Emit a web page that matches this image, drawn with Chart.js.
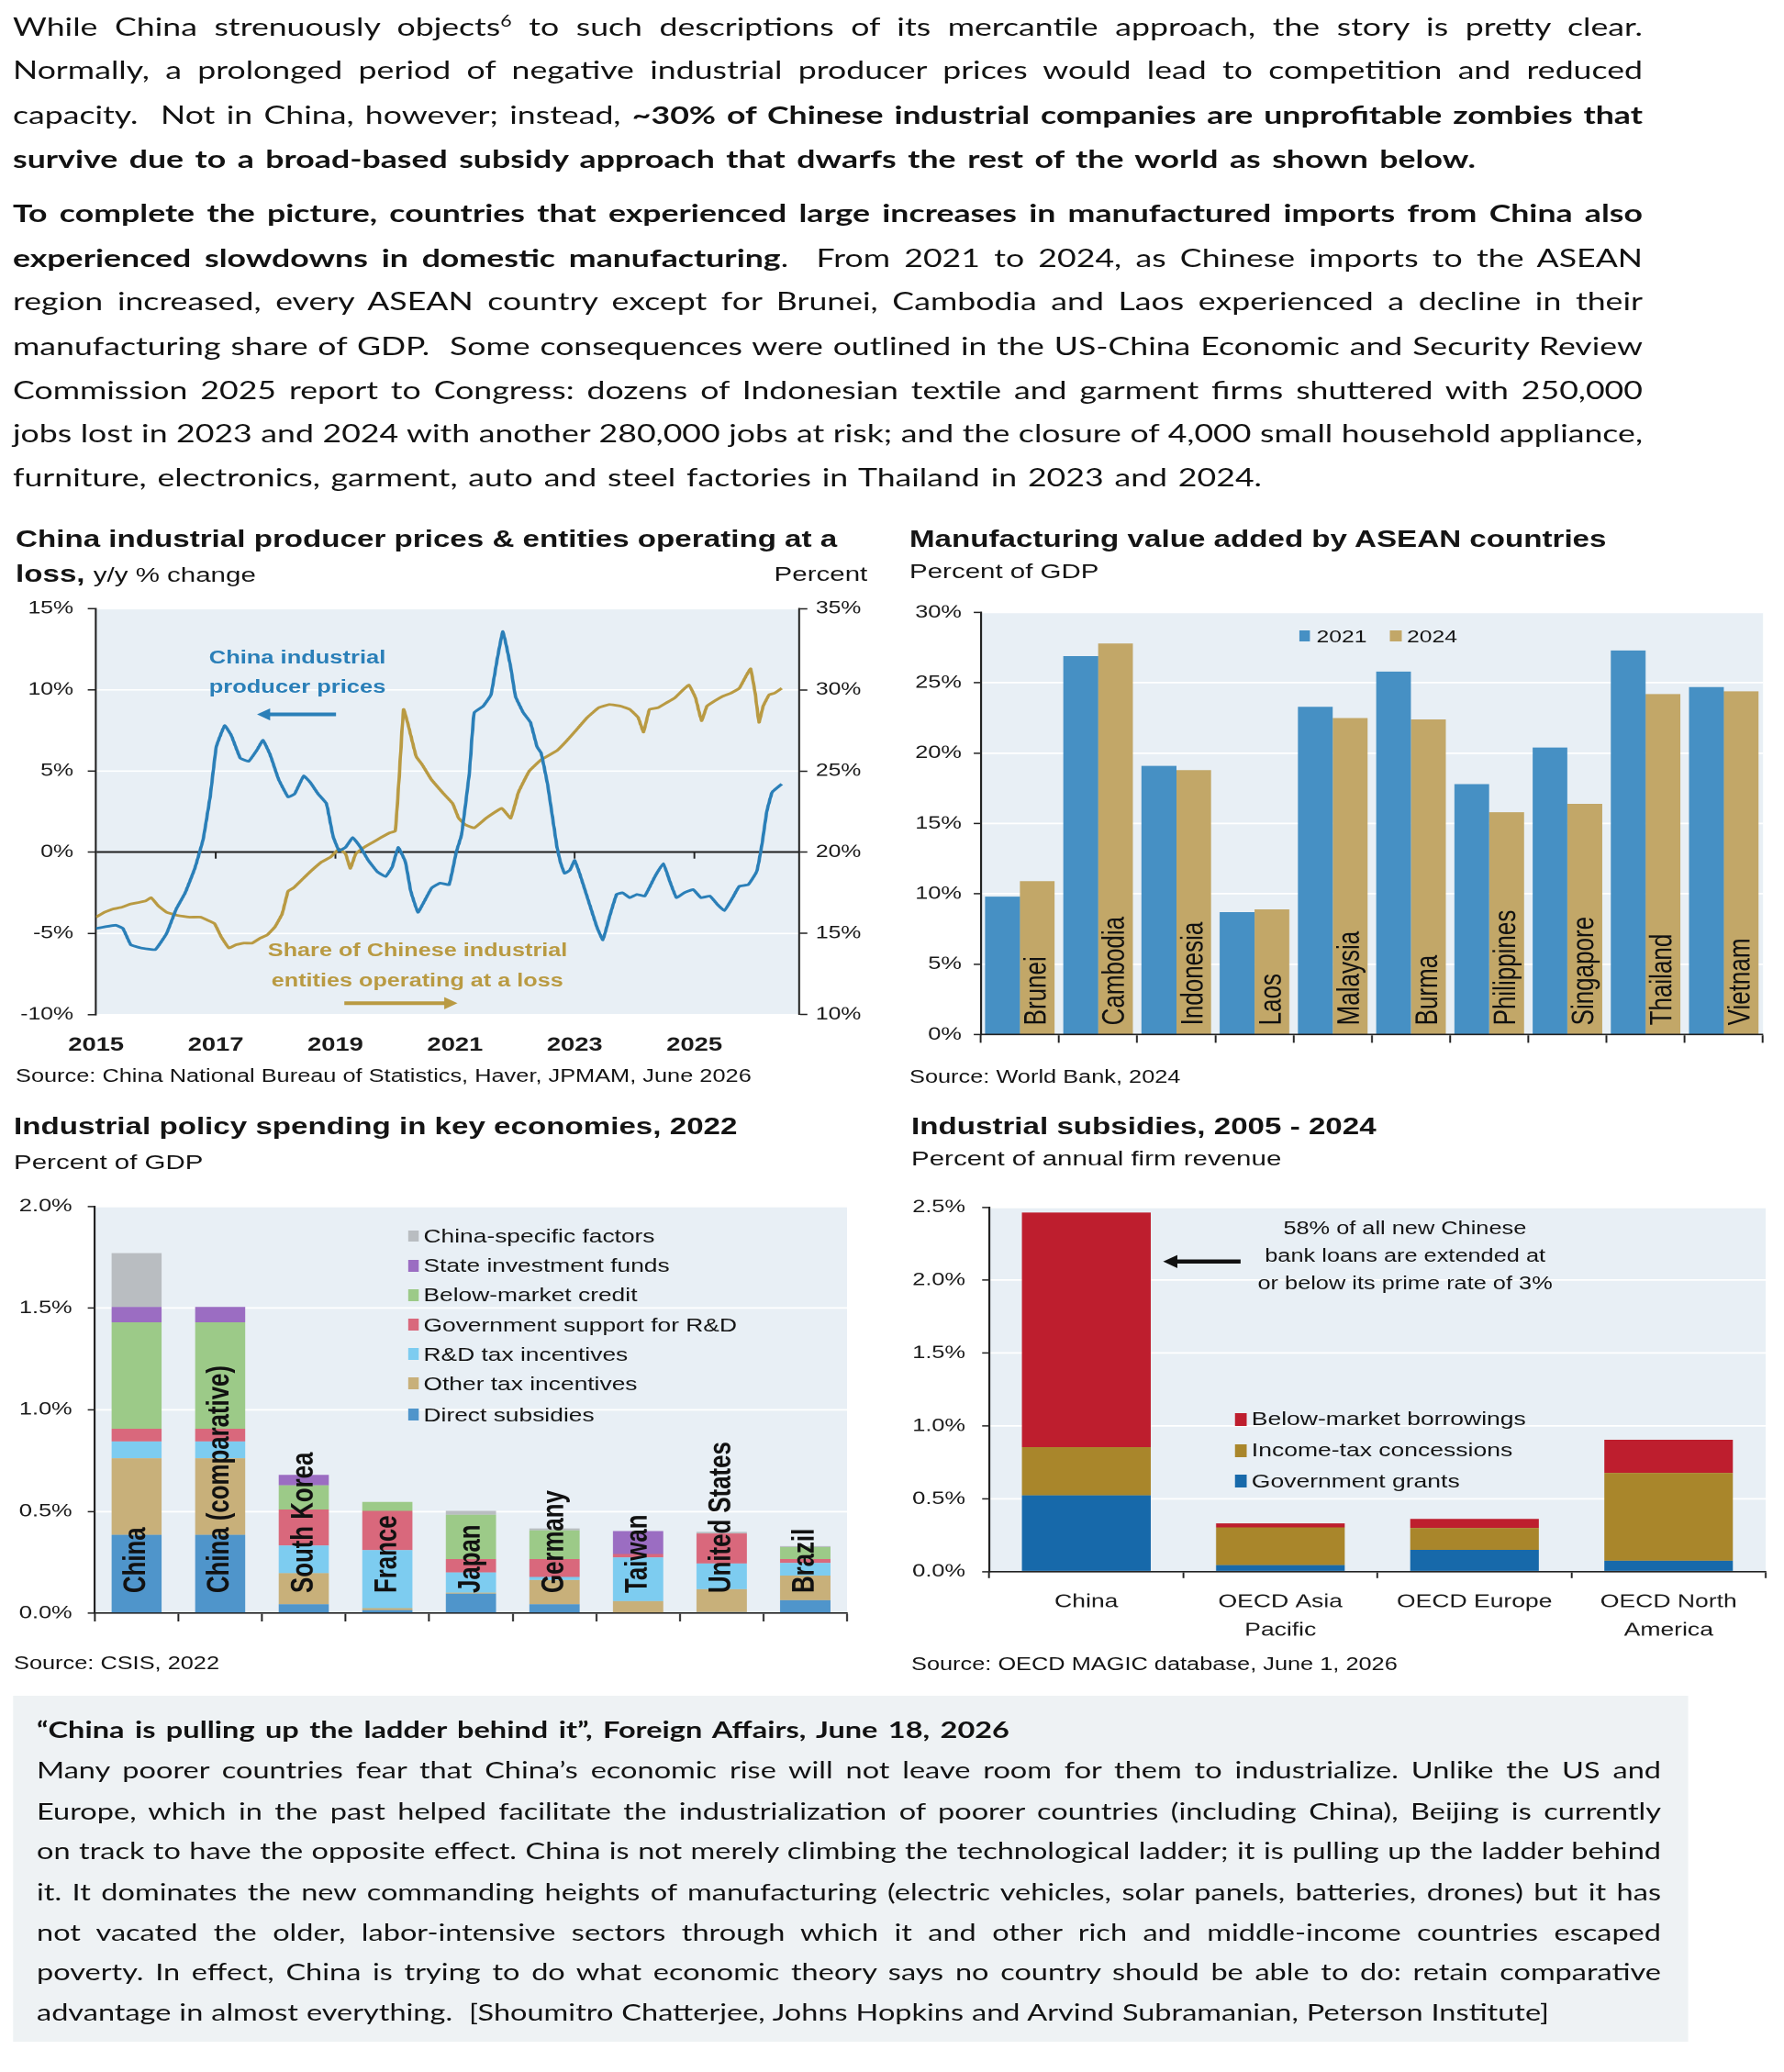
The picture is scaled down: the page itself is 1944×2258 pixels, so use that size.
<!DOCTYPE html>
<html><head><meta charset="utf-8">
<script src="https://cdn.jsdelivr.net/npm/chart.js@4.4.1/dist/chart.umd.min.js"></script>
<style>
html,body{margin:0;padding:0;background:#fff;}
body{width:1944px;height:2258px;overflow:hidden;position:relative;}
#page{position:absolute;left:0;top:0;width:1496px;height:2258px;transform:scaleX(1.3);transform-origin:0 0;}
.t{position:absolute;white-space:nowrap;color:#141414;}
.jl{position:absolute;text-align:justify;text-align-last:justify;font-family:Lato,"Open Sans",sans-serif;color:#121212;overflow:visible;}
.jl sup{font-size:0.6em;line-height:0;}
.box{position:absolute;background:#eef2f4;}
.sq{position:absolute;}
canvas{position:absolute;}
</style></head>
<body><div id="page"></div>
<script>
// ---------------- DATA ----------------
const yearTicks=[2015,2017,2019,2021,2023,2025];
const ppiTicks=[-10,-5,0,5,10,15];
const lossTicks=[10,15,20,25,30,35];
const ppiYears=[2015.00,2015.14,2015.33,2015.45,2015.58,2015.75,2015.99,2016.18,2016.34,2016.49,2016.65,2016.79,2016.91,2017.01,2017.15,2017.26,2017.41,2017.55,2017.69,2017.79,2017.91,2018.05,2018.21,2018.32,2018.47,2018.58,2018.71,2018.85,2018.96,2019.06,2019.17,2019.29,2019.42,2019.55,2019.70,2019.84,2019.95,2020.05,2020.17,2020.26,2020.38,2020.49,2020.61,2020.75,2020.90,2021.02,2021.11,2021.24,2021.32,2021.47,2021.60,2021.70,2021.80,2021.93,2022.01,2022.14,2022.26,2022.37,2022.44,2022.55,2022.70,2022.76,2022.83,2022.92,2023.00,2023.09,2023.23,2023.37,2023.47,2023.58,2023.70,2023.80,2023.92,2024.04,2024.17,2024.34,2024.48,2024.59,2024.70,2024.83,2024.98,2025.11,2025.26,2025.38,2025.50,2025.64,2025.75,2025.90,2026.04,2026.13,2026.21,2026.30,2026.46];
const ppiValues=[-4.7,-4.6,-4.5,-4.7,-5.7,-5.9,-6.0,-5.0,-3.5,-2.5,-1.0,0.8,3.5,6.5,7.8,7.2,5.8,5.6,6.3,6.9,6.0,4.5,3.4,3.6,4.7,4.3,3.6,3.0,1.0,0.1,0.3,0.9,0.3,-0.5,-1.2,-1.5,-0.9,0.3,-0.6,-2.4,-3.7,-3.0,-2.2,-1.9,-2.0,0.0,1.1,4.9,8.6,9.0,9.7,11.8,13.6,11.4,9.6,8.6,8.0,6.5,6.1,4.1,0.4,-0.6,-1.3,-1.1,-0.5,-1.4,-3.0,-4.6,-5.4,-4.0,-2.6,-2.5,-2.8,-2.6,-2.7,-1.5,-0.7,-1.8,-2.8,-2.5,-2.3,-2.8,-2.7,-3.2,-3.6,-2.8,-2.1,-2.0,-1.2,0.5,2.5,3.7,4.2];
const lossYears=[2015.00,2015.14,2015.28,2015.42,2015.57,2015.71,2015.83,2015.92,2016.04,2016.18,2016.37,2016.56,2016.75,2016.87,2016.98,2017.09,2017.22,2017.34,2017.47,2017.61,2017.74,2017.86,2017.99,2018.11,2018.21,2018.30,2018.44,2018.58,2018.77,2018.92,2019.06,2019.17,2019.25,2019.34,2019.48,2019.62,2019.76,2019.91,2020.00,2020.07,2020.14,2020.22,2020.35,2020.45,2020.60,2020.81,2020.96,2021.06,2021.17,2021.32,2021.52,2021.78,2021.93,2022.06,2022.24,2022.44,2022.70,2022.85,2023.01,2023.21,2023.40,2023.58,2023.77,2023.92,2024.06,2024.15,2024.25,2024.39,2024.53,2024.67,2024.81,2024.91,2025.02,2025.12,2025.21,2025.33,2025.47,2025.61,2025.75,2025.87,2025.94,2026.02,2026.08,2026.15,2026.25,2026.34,2026.46];
const lossValues=[16.0,16.3,16.5,16.6,16.8,16.9,17.0,17.2,16.7,16.3,16.1,16.0,16.0,15.8,15.6,14.8,14.1,14.3,14.4,14.4,14.7,14.9,15.4,16.2,17.6,17.8,18.3,18.8,19.4,19.7,20.2,19.9,19.0,19.9,20.3,20.6,20.9,21.2,21.3,24.85,28.8,27.8,25.9,25.4,24.5,23.6,23.0,22.1,21.7,21.5,22.1,22.7,22.1,23.7,25.0,25.7,26.25,26.8,27.46,28.3,28.9,29.1,29.0,28.8,28.3,27.4,28.8,28.9,29.2,29.5,30.0,30.3,29.5,28.1,29.0,29.3,29.6,29.8,30.1,30.9,31.3,29.7,28.0,29.0,29.7,29.8,30.1];

const aseanCountries=['Brunei','Cambodia','Indonesia','Laos','Malaysia','Burma','Philippines','Singapore','Thailand','Vietnam'];
const mvaSeries=['2021','2024'];
const mva2021=[9.8,26.9,19.1,8.7,23.3,25.8,17.8,20.4,27.3,24.7];
const mva2024=[10.9,27.8,18.8,8.9,22.5,22.4,15.8,16.4,24.2,24.4];
const mvaTicks=[0,5,10,15,20,25,30];

const policyCountries=['China','China (comparative)','South Korea','France','Japan','Germany','Taiwan','United States','Brazil'];
const policyComponents=['Direct subsidies','Other tax incentives','R&D tax incentives','Government support for R&D','Below-market credit','State investment funds','China-specific factors'];
const directSubsidies=[0.385,0.385,0.044,0.015,0.096,0.044,0.000,0.005,0.064];
const otherTaxIncentives=[0.377,0.377,0.153,0.010,0.005,0.119,0.059,0.113,0.121];
const rdTaxIncentives=[0.082,0.082,0.136,0.285,0.099,0.015,0.215,0.126,0.062];
const govSupportRD=[0.063,0.063,0.177,0.193,0.066,0.088,0.017,0.148,0.019];
const belowMarketCredit=[0.523,0.523,0.119,0.044,0.218,0.141,0.000,0.000,0.059];
const stateInvestmentFunds=[0.076,0.076,0.051,0,0,0,0.113,0,0];
const chinaSpecificFactors=[0.264,0,0,0,0.019,0.010,0,0.008,0.005];
const policyTicks=[0,0.5,1,1.5,2];

const subsidyRegions=['China',['OECD Asia','Pacific'],'OECD Europe',['OECD North','America']];
const subsidyComponents=['Government grants','Income-tax concessions','Below-market borrowings'];
const govGrants=[0.524,0.045,0.150,0.075];
const incomeTaxConcessions=[0.331,0.259,0.150,0.603];
const belowMarketBorrowings=[1.609,0.028,0.062,0.227];
const subsidyTicks=[0,0.5,1,1.5,2,2.5];

// ---------------- HELPERS ----------------
const K=1.3;
const page=document.getElementById('page');
const L=x=>x/K;
const CHF='"Liberation Sans", Arial, Helvetica, sans-serif';

function addText(html,xFull,yFull,o={}){
  const d=document.createElement('div');
  d.className='t';
  const size=o.size||20, lh=o.lh||Math.round(size*1.3);
  d.style.fontFamily=o.family||CHF;
  d.style.fontSize=size+'px';
  d.style.lineHeight=lh+'px';
  d.style.fontWeight=o.bold?'700':'400';
  if(o.color) d.style.color=o.color;
  d.style.top=(yFull-lh/2)+'px';
  d.innerHTML=html;
  page.appendChild(d);
  const w=d.offsetWidth;
  let left=L(xFull);
  if(o.align==='right') left-=w; else if(o.align==='center') left-=w/2;
  d.style.left=left+'px';
  return d;
}
function addBox(x1,y1,x2,y2,color,cls){
  const d=document.createElement('div');
  d.className=cls||'box';
  d.style.left=L(x1)+'px'; d.style.top=y1+'px';
  d.style.width=L(x2-x1)+'px'; d.style.height=(y2-y1)+'px';
  if(color) d.style.background=color;
  page.appendChild(d); return d;
}
function justifyLines(lines,o){
  const els=lines.map(l=>{
    const d=document.createElement('div');
    d.className='jl';
    d.style.fontSize=o.size+'px'; d.style.lineHeight=o.lh+'px';
    d.style.left=L(o.left)+'px'; d.style.top=(l.y-o.lh/2)+'px';
    const w=L((l.right||o.right)-o.left);
    d.style.width=w+'px'; d.style.height=o.lh+'px';
    d.innerHTML='<span style="white-space:nowrap">'+l.html+'</span>';
    page.appendChild(d);
    return {d,w};
  });
  let f=1;
  els.forEach(({d,w})=>{const nw=d.firstChild.offsetWidth; f=Math.min(f,w/nw);});
  if(f<1) els.forEach(({d})=>{d.style.fontSize=(o.size*f*0.996)+'px';});
  els.forEach(({d})=>{d.firstChild.style.whiteSpace='normal';});
}
function legendItem(sqX1,sqX2,y,sqH,color,text,textX,size){
  addBox(sqX1,y-sqH/2,sqX2,y+sqH/2,color,'sq');
  addText(text,textX,y,{size:size});
}
function mkCanvas(leftFull,top,wFull,h){
  const c=document.createElement('canvas');
  c.width=Math.round(L(wFull)); c.height=h;
  c.style.left=L(leftFull)+'px'; c.style.top=top+'px';
  page.appendChild(c); return c;
}
function arrow(ctx,x1,y1,x2,y2,color,w,head){
  const dir=Math.sign(x2-x1);
  ctx.save(); ctx.strokeStyle=color; ctx.fillStyle=color; ctx.lineWidth=w;
  ctx.beginPath(); ctx.moveTo(x1,y1); ctx.lineTo(x2-dir*head*0.7,y2); ctx.stroke();
  ctx.beginPath(); ctx.moveTo(x2,y2); ctx.lineTo(x2-dir*head,y2-head*0.6); ctx.lineTo(x2-dir*head,y2+head*0.6); ctx.closePath(); ctx.fill();
  ctx.restore();
}
const plotBg={id:'plotBg',beforeDraw(ch){const a=ch.chartArea,x=ch.ctx;x.save();x.fillStyle='#e8eff5';x.fillRect(a.left,a.top,a.right-a.left,a.bottom-a.top);x.restore();}};
const tickSet=arr=>s=>{s.ticks=arr.map(v=>({value:v}));};

Chart.defaults.font.family=CHF;
Chart.defaults.color='#1a1a1a';
Chart.defaults.animation=false;
Chart.defaults.plugins.legend.display=false;
Chart.defaults.plugins.tooltip.enabled=false;

// ---------------- BODY TEXT ----------------
justifyLines([
 {y:29,html:'While China strenuously objects<sup>6</sup> to such descriptions of its mercantile approach, the story is pretty clear.'},
 {y:76,html:'Normally, a prolonged period of negative industrial producer prices would lead to competition and reduced'},
 {y:125,html:'capacity.&nbsp; Not in China, however; instead, <b>~30% of Chinese industrial companies are unprofitable zombies that</b>'},
 {y:173,right:1608,html:'<b>survive due to a broad-based subsidy approach that dwarfs the rest of the world as shown below.</b>'},
 {y:232,html:'<b>To complete the picture, countries that experienced large increases in manufactured imports from China also</b>'},
 {y:281,html:'<b>experienced slowdowns in domestic manufacturing</b>.&nbsp; From 2021 to 2024, as Chinese imports to the ASEAN'},
 {y:328,html:'region increased, every ASEAN country except for Brunei, Cambodia and Laos experienced a decline in their'},
 {y:377,html:'manufacturing share of GDP.&nbsp; Some consequences were outlined in the US-China Economic and Security Review'},
 {y:425,html:'Commission 2025 report to Congress: dozens of Indonesian textile and garment firms shuttered with 250,000'},
 {y:472,html:'jobs lost in 2023 and 2024 with another 280,000 jobs at risk; and the closure of 4,000 small household appliance,'},
 {y:520,right:1375,html:'furniture, electronics, garment, auto and steel factories in Thailand in 2023 and 2024.'}
],{left:14,right:1790,size:32,lh:42});

addBox(14,1848,1839,2225,'#eef2f4');
justifyLines([
 {y:1884,right:1100,html:'<b>“China is pulling up the ladder behind it”, Foreign Affairs, June 18, 2026</b>'},
 {y:1928,html:'Many poorer countries fear that China’s economic rise will not leave room for them to industrialize. Unlike the US and'},
 {y:1973,html:'Europe, which in the past helped facilitate the industrialization of poorer countries (including China), Beijing is currently'},
 {y:2016,html:'on track to have the opposite effect. China is not merely climbing the technological ladder; it is pulling up the ladder behind'},
 {y:2061,html:'it. It dominates the new commanding heights of manufacturing (electric vehicles, solar panels, batteries, drones) but it has'},
 {y:2105,html:'not vacated the older, labor-intensive sectors through which it and other rich and middle-income countries escaped'},
 {y:2148,html:'poverty. In effect, China is trying to do what economic theory says no country should be able to do: retain comparative'},
 {y:2192,right:1688,html:'advantage in almost everything.&nbsp; [Shoumitro Chatterjee, Johns Hopkins and Arvind Subramanian, Peterson Institute]'}
],{left:40,right:1810,size:30,lh:40});

// ---------------- TITLES / SOURCES ----------------
const TS=25.5, SS=22.7;
addText('China industrial producer prices &amp; entities operating at a',17,587,{size:TS,bold:true});
addText('<b>loss,</b> <span style="font-size:'+SS+'px">y/y % change</span>',17,625,{size:TS});
addText('Percent',945,625,{size:SS,align:'right'});
addText('Source: China National Bureau of Statistics, Haver, JPMAM, June 2026',17,1172,{size:19.5});

addText('Manufacturing value added by ASEAN countries',991,587,{size:TS,bold:true});
addText('Percent of GDP',991,622,{size:SS});
addText('Source: World Bank, 2024',991,1173,{size:19.5});

addText('Industrial policy spending in key economies, 2022',15,1227,{size:TS,bold:true});
addText('Percent of GDP',15,1266,{size:SS});
addText('Source: CSIS, 2022',15,1812,{size:19.5});

addText('Industrial subsidies, 2005 - 2024',993,1227,{size:TS,bold:true});
addText('Percent of annual firm revenue',993,1262,{size:SS});
addText('Source: OECD MAGIC database, June 1, 2026',993,1813,{size:19.5});

// ---------------- CHART A ----------------
const cA=mkCanvas(0,640,960,520);
const annA={id:'annA',
 beforeDatasetsDraw(ch){const x=ch.scales.x,y=ch.scales.y,ctx=ch.ctx;const y0=y.getPixelForValue(0);
   ctx.save();ctx.strokeStyle='#222';ctx.lineWidth=1.5;
   yearTicks.slice(1).forEach(v=>{const px=x.getPixelForValue(v);ctx.beginPath();ctx.moveTo(px,y0);ctx.lineTo(px,y0+7);ctx.stroke();});
   ctx.restore();},
 afterDatasetsDraw(ch){const x=ch.scales.x,y=ch.scales.y,ctx=ch.ctx;
   arrow(ctx,x.getPixelForValue(2019.01),y.getPixelForValue(8.49),x.getPixelForValue(2017.69),y.getPixelForValue(8.49),'#2a7fb8',4,11);
   arrow(ctx,x.getPixelForValue(2019.15),y.getPixelForValue(-9.3),x.getPixelForValue(2021.04),y.getPixelForValue(-9.3),'#b99a42',4,11);}
};
new Chart(cA,{type:'line',
 data:{datasets:[
  {label:'China industrial producer prices',data:ppiYears.map((x,i)=>({x,y:ppiValues[i]})),borderColor:'#2a7fb8',borderWidth:2.8,pointRadius:0,yAxisID:'y',tension:0.1,order:1},
  {label:'Share of Chinese industrial entities operating at a loss',data:lossYears.map((x,i)=>({x,y:lossValues[i]})),borderColor:'#b99a42',borderWidth:2.8,pointRadius:0,yAxisID:'y2',tension:0.1,order:2}
 ]},
 options:{responsive:false,devicePixelRatio:2,layout:{padding:{top:18.5,left:0,right:0,bottom:0}},
  scales:{
   x:{type:'linear',min:2015,max:2026.75,afterBuildTicks:tickSet(yearTicks),
      ticks:{font:{size:21,weight:'bold'},padding:21,maxRotation:0,autoSkip:false,callback:v=>String(v)},
      grid:{display:false,drawTicks:false},border:{display:false},afterFit:s=>{s.height=54.4;}},
   y:{position:'left',min:-10,max:15,afterBuildTicks:tickSet(ppiTicks),
      ticks:{font:{size:19},padding:12,callback:v=>v+'%'},
      grid:{color:c=>(c.tick&&c.tick.value===0)?'#1e1e1e':'rgba(255,255,255,0.95)',lineWidth:c=>(c.tick&&c.tick.value===0)?2:1.6,tickColor:'#222',tickLength:7,tickWidth:1.5},
      border:{color:'#222',width:1.6},afterFit:s=>{s.width=80.5;}},
   y2:{position:'right',min:10,max:35,afterBuildTicks:tickSet(lossTicks),
      ticks:{font:{size:19},padding:7,callback:v=>v+'%'},
      grid:{drawOnChartArea:false,tickColor:'#222',tickLength:7,tickWidth:1.5},
      border:{color:'#222',width:1.6},afterFit:s=>{s.width=68.2;}}
  }},
 plugins:[plotBg,annA]});
addText('China industrial',324,716,{size:19.6,bold:true,align:'center',color:'#2a7fb8'});
addText('producer prices',324,748,{size:19.6,bold:true,align:'center',color:'#2a7fb8'});
addText('Share of Chinese industrial',455,1035,{size:19.4,bold:true,align:'center',color:'#b99a42'});
addText('entities operating at a loss',455,1068,{size:19.4,bold:true,align:'center',color:'#b99a42'});

// ---------------- CHART B ----------------
const cB=mkCanvas(980,640,960,520);
const labelsB={id:'labelsB',afterDatasetsDraw(ch){const m=ch.getDatasetMeta(1),ctx=ch.ctx,b=ch.chartArea.bottom;
  ctx.save();ctx.font='26px '+CHF;ctx.fillStyle='#111';ctx.textAlign='left';ctx.textBaseline='middle';
  m.data.forEach((el,i)=>{ctx.save();ctx.translate(el.x,b-10);ctx.rotate(-Math.PI/2);ctx.fillText(aseanCountries[i],0,0);ctx.restore();});
  ctx.restore();}};
new Chart(cB,{type:'bar',
 data:{labels:aseanCountries,datasets:[
  {label:mvaSeries[0],data:mva2021,backgroundColor:'#4690c4',barPercentage:1,categoryPercentage:0.89},
  {label:mvaSeries[1],data:mva2024,backgroundColor:'#c2a768',barPercentage:1,categoryPercentage:0.89}]},
 options:{responsive:false,devicePixelRatio:2,layout:{padding:{top:27.5,right:14.3,left:0,bottom:0}},
  scales:{
   x:{grid:{offset:true,drawOnChartArea:false,tickColor:'#222',tickLength:9,tickWidth:1.5},border:{color:'#222',width:1.6},ticks:{display:false},afterFit:s=>{s.height=32.6;}},
   y:{min:0,max:30,afterBuildTicks:tickSet(mvaTicks),ticks:{font:{size:19.5},padding:10,callback:v=>v+'%'},
      grid:{color:'#ffffff',lineWidth:1.8,tickColor:'#222',tickLength:6,tickWidth:1.5},border:{color:'#222',width:1.6},afterFit:s=>{s.width=68.1;}}
  }},
 plugins:[plotBg,labelsB]});
legendItem(1416,1428,693,12.5,'#4690c4','2021',1434.6,19);
legendItem(1514.6,1527,693,12.5,'#c2a768','2024',1533,19);

// ---------------- CHART C ----------------
const colC=['#4f95cb','#c8b07a','#7dccf0','#d9687c','#9cca88','#9b6dc2','#b9bdc1'];
const dataC=[directSubsidies,otherTaxIncentives,rdTaxIncentives,govSupportRD,belowMarketCredit,stateInvestmentFunds,chinaSpecificFactors];
const cC=mkCanvas(0,1290,960,500);
const labelsC={id:'labelsC',afterDatasetsDraw(ch){const m=ch.getDatasetMeta(0),ctx=ch.ctx,b=ch.chartArea.bottom;
  ctx.save();ctx.font='bold 25.8px '+CHF;ctx.fillStyle='#111';ctx.textAlign='left';ctx.textBaseline='middle';
  m.data.forEach((el,i)=>{ctx.save();ctx.translate(el.x,b-22);ctx.rotate(-Math.PI/2);ctx.fillText(policyCountries[i],0,0);ctx.restore();});
  ctx.restore();}};
new Chart(cC,{type:'bar',
 data:{labels:policyCountries,datasets:dataC.map((d,i)=>({label:policyComponents[i],data:d,backgroundColor:colC[i],barPercentage:0.6,categoryPercentage:1}))},
 options:{responsive:false,devicePixelRatio:2,layout:{padding:{top:15.8,right:28,left:0,bottom:0}},
  scales:{
   x:{stacked:true,grid:{offset:true,drawOnChartArea:false,tickColor:'#222',tickLength:9,tickWidth:1.5},border:{color:'#222',width:1.6},ticks:{display:false},afterFit:s=>{s.height=32;}},
   y:{stacked:true,min:0,max:2,afterBuildTicks:tickSet(policyTicks),ticks:{font:{size:19.5},padding:13,callback:v=>v.toFixed(1)+'%'},
      grid:{color:'#ffffff',lineWidth:1.8,tickColor:'#222',tickLength:6,tickWidth:1.5},border:{color:'#222',width:1.6},afterFit:s=>{s.width=79.5;}}
  }},
 plugins:[plotBg,labelsC]});
const legYC=[1541.7,1507.7,1475.7,1443.7,1411.3,1379.3,1346.9];
policyComponents.forEach((n,i)=>legendItem(444,456.6,legYC[i],12.5,colC[i],n.replace('&','&amp;'),461.5,20.3));

// ---------------- CHART D ----------------
const colD=['#1769aa','#a9862b','#be1e2e'];
const dataD=[govGrants,incomeTaxConcessions,belowMarketBorrowings];
const cD=mkCanvas(980,1290,960,500);
const annD={id:'annD',afterDatasetsDraw(ch){const x=ch.scales.x,y=ch.scales.y;
  arrow(ch.ctx,x.getPixelForValue(0.795),y.getPixelForValue(2.128),x.getPixelForValue(0.396),y.getPixelForValue(2.128),'#111',4.5,12);}};
new Chart(cD,{type:'bar',
 data:{labels:subsidyRegions,datasets:dataD.map((d,i)=>({label:subsidyComponents[i],data:d,backgroundColor:colD[i],barPercentage:0.663,categoryPercentage:1}))},
 options:{responsive:false,devicePixelRatio:2,layout:{padding:{top:11.7,right:12,left:0,bottom:0}},
  scales:{
   x:{stacked:true,grid:{offset:true,drawOnChartArea:false,tickColor:'#222',tickLength:7,tickWidth:1.5},border:{color:'#222',width:1.6},
      ticks:{font:{size:20.4,lineHeight:1.5},padding:11,maxRotation:0,autoSkip:false},afterFit:s=>{s.height=77.2;}},
   y:{stacked:true,min:0,max:2.5,afterBuildTicks:tickSet(subsidyTicks),ticks:{font:{size:19.5},padding:14,callback:v=>v.toFixed(1)+'%'},
      grid:{color:'#ffffff',lineWidth:1.8,tickColor:'#222',tickLength:6,tickWidth:1.5},border:{color:'#222',width:1.6},afterFit:s=>{s.width=75.2;}}
  }},
 plugins:[plotBg,annD]});
addText('58% of all new Chinese',1531,1338,{size:19.5,align:'center'});
addText('bank loans are extended at',1531,1368,{size:19.5,align:'center'});
addText('or below its prime rate of 3%',1531,1398,{size:19.5,align:'center'});
const legYD=[1614.4,1580.7,1546.7];
subsidyComponents.forEach((n,i)=>legendItem(1345.4,1358.9,legYD[i],14,colD[i],n,1363.8,20.4));
</script>
</body></html>
